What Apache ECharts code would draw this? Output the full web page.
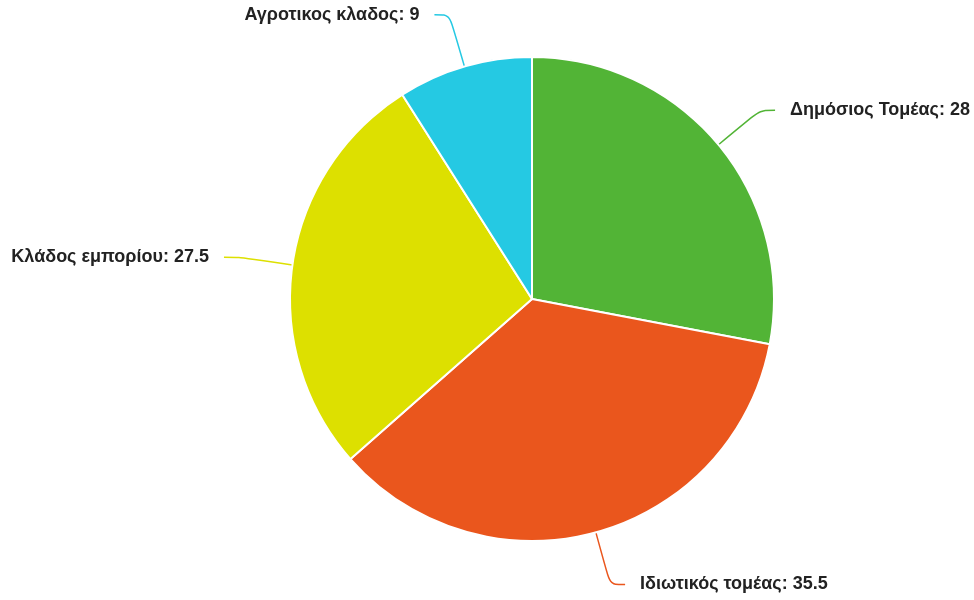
<!DOCTYPE html>
<html><head><meta charset="utf-8">
<script src="https://cdn.jsdelivr.net/npm/echarts@6/dist/echarts.min.js"></script>
<style>html,body{margin:0;padding:0;background:#fff}#c{width:974px;height:600px}</style>
</head><body><div id="c"></div>
<script>
const categories = ['Δημόσιος Τομέας', 'Ιδιωτικός τομέας', 'Κλάδος εμπορίου', 'Αγροτικος κλαδος'];
const values = [28, 35.5, 27.5, 9];
const colors = ['#52b436', '#ea561d', '#dde000', '#25c9e3'];

const chart = echarts.init(document.getElementById('c'), null, {renderer: 'canvas'});
chart.setOption({
  animation: false,
  series: [{
    type: 'pie',
    center: [532, 299],
    radius: 242,
    startAngle: 90,
    clockwise: true,
    data: categories.map((n, i) => ({name: n, value: values[i], itemStyle: {color: colors[i]}})),
    itemStyle: {borderColor: '#fff', borderWidth: 2},
    label: {
      show: true,
      formatter: '{b}: {c}',
      fontFamily: 'Liberation Sans, Arial, sans-serif',
      fontWeight: 'bold',
      fontSize: 18,
      color: '#222',
      overflow: 'none',
      distanceToLabelLine: 15
    },
    labelLine: {show: true, length: 54, length2: 15, smooth: true, lineStyle: {width: 1.5}}
  }]
});
</script></body></html>
